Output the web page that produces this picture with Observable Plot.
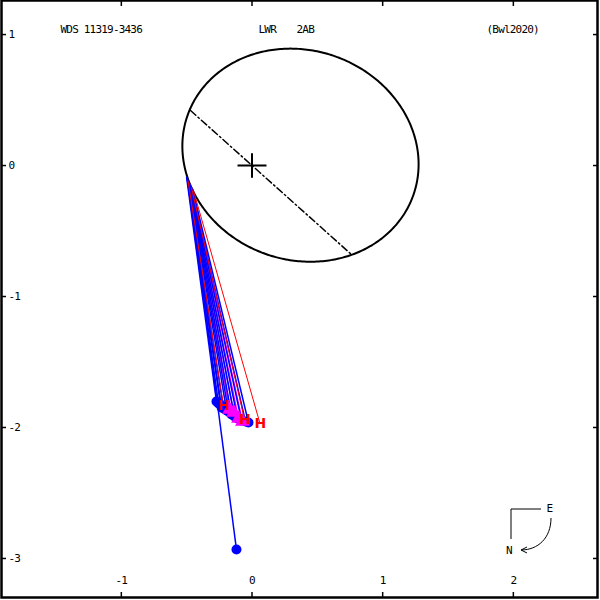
<!DOCTYPE html>
<html>
<head>
<meta charset="utf-8">
<script src="https://cdn.jsdelivr.net/npm/d3@7"></script>
<script src="https://cdn.jsdelivr.net/npm/@observablehq/plot@0.6"></script>
<style>
  html, body { margin: 0; padding: 0; background: white; }
  #chart svg { display: block; }
</style>
</head>
<body>
<div id="chart"></div>
<script>
// ---- Data (arcsec) ----
const titleLeft = "WDS 11319-3436";
const titleDisc = ["LWR", "2AB"];
const titleRef = "(Bwl2020)";
const xTicks = [-1, 0, 1, 2];
const yTicks = [1, 0, -1, -2, -3];

// apparent orbit ellipse (center, semi-axes, tilt in degrees)
const orbitCenter = [0.371, 0.079];
const orbitAxes = [0.916, 0.800];
const orbitTilt = -19.4;

// line of nodes endpoints
const nodeX = [-0.470, 0.753];
const nodeY = [0.420, -0.672];

// blue filled circles: predicted x, predicted y, observed x, observed y
const bluePredX = [-0.501, -0.497, -0.494, -0.494, -0.490, -0.486, -0.482, -0.478, -0.474, -0.471, -0.467, -0.463, -0.455, -0.486];
const bluePredY = [-0.084, -0.092, -0.099, -0.107, -0.115, -0.122, -0.130, -0.137, -0.145, -0.153, -0.160, -0.168, -0.176, -0.122];
const blueObsX  = [-0.272, -0.256, -0.241, -0.233, -0.218, -0.195, -0.180, -0.157, -0.134, -0.111, -0.080, -0.050, -0.027, -0.119];
const blueObsY  = [-1.802, -1.817, -1.824, -1.847, -1.855, -1.870, -1.878, -1.901, -1.916, -1.931, -1.947, -1.954, -1.962, -2.931];

// magenta triangles
const magPredX = [-0.482, -0.478, -0.471, -0.463];
const magPredY = [-0.130, -0.137, -0.156, -0.168];
const magObsX  = [-0.172, -0.141, -0.103, -0.073];
const magObsY  = [-1.863, -1.885, -1.931, -1.954];

// red H (Hipparcos)
const redPredX = [-0.490, -0.463, -0.448];
const redPredY = [-0.115, -0.168, -0.191];
const redObsX  = [-0.218, -0.057, 0.061];
const redObsY  = [-1.832, -1.939, -1.969];

// ---- build tables ----
const pairs = (px, py, ox, oy) => px.map((_, i) => ({px: px[i], py: py[i], ox: ox[i], oy: oy[i]}));
const blue = pairs(bluePredX, bluePredY, blueObsX, blueObsY);
const mag = pairs(magPredX, magPredY, magObsX, magObsY);
const red = pairs(redPredX, redPredY, redObsX, redObsY);

const phi = orbitTilt * Math.PI / 180;
const ellipse = d3.range(0, 361).map(deg => {
  const t = deg * Math.PI / 180;
  const a = orbitAxes[0] * Math.cos(t), b = orbitAxes[1] * Math.sin(t);
  return {x: orbitCenter[0] + a * Math.cos(phi) - b * Math.sin(phi),
          y: orbitCenter[1] + a * Math.sin(phi) + b * Math.cos(phi)};
});
const nodes = nodeX.map((x, i) => ({x, y: nodeY[i]}));

const crossSymbol = {
  draw(context, size) {
    const r = Math.sqrt(size / Math.PI);
    context.moveTo(-r, 0); context.lineTo(r, 0);
    context.moveTo(0, -0.85 * r); context.lineTo(0, 0.85 * r);
  }
};

const monoFont = "'DejaVu Sans Mono', monospace";

function compass(index, scales, values, dim) {
  const R = dim.width - dim.marginRight;
  const B = dim.height - dim.marginBottom;
  const g = d3.create("svg:g").attr("fill", "none").attr("stroke", "black").attr("stroke-width", 1);
  g.append("path").attr("d", `M${R-86},${B-58}V${B-88}H${R-56}`);
  g.append("path").attr("d", `M${R-46},${B-79}C${R-46},${B-59} ${R-59},${B-47} ${R-76},${B-47}`);
  g.append("path").attr("d", `M${R-70},${B-50}L${R-76},${B-47}L${R-70},${B-44}`);
  const t = g.append("g").attr("stroke", "none").attr("fill", "black")
    .attr("font-family", monoFont).attr("font-size", 11).attr("text-anchor", "middle");
  t.append("text").attr("x", R-47.5).attr("y", B-89).attr("dy", "0.35em").text("E");
  t.append("text").attr("x", R-88).attr("y", B-47).attr("dy", "0.35em").text("N");
  return g.node();
}

const chart = Plot.plot({
  width: 600,
  height: 600,
  marginLeft: 1,
  marginRight: 3,
  marginTop: 0,
  marginBottom: 3,
  x: {domain: [-1.917, 2.644]},
  y: {domain: [-3.298, 1.26]},
  style: {fontFamily: monoFont, fontSize: "11px", background: "white", overflow: "visible", letterSpacing: "-0.8px"},
  marks: [
    Plot.frame({stroke: "black", strokeWidth: 2.5}),
    Plot.axisX({ticks: xTicks, anchor: "bottom", tickSize: -5, tickFormat: () => "", label: null, strokeWidth: 1.5}),
    Plot.axisX({ticks: xTicks, anchor: "top", tickSize: -5, tickFormat: () => "", label: null, strokeWidth: 1.5}),
    Plot.axisY({ticks: yTicks, anchor: "left", tickSize: -5, tickFormat: () => "", label: null, strokeWidth: 1.5}),
    Plot.axisY({ticks: yTicks, anchor: "right", tickSize: -5, tickFormat: () => "", label: null, strokeWidth: 1.5}),
    Plot.text(xTicks, {x: d => d, text: d => String(d), frameAnchor: "bottom", dy: -13.5, fill: "black"}),
    Plot.text(yTicks, {y: d => d, text: d => String(d), frameAnchor: "left", dx: 7, textAnchor: "start", fill: "black"}),
    Plot.text([titleLeft], {text: d => d, frameAnchor: "top-left", dx: 59, dy: 25, textAnchor: "start", fill: "black"}),
    Plot.text([titleDisc[0]], {text: d => d, frameAnchor: "top-left", dx: 257, dy: 25, textAnchor: "start", fill: "black"}),
    Plot.text([titleDisc[1]], {text: d => d, frameAnchor: "top-left", dx: 295, dy: 25, textAnchor: "start", fill: "black"}),
    Plot.text([titleRef], {text: d => d, frameAnchor: "top-left", dx: 485, dy: 25, textAnchor: "start", fill: "black"}),
    Plot.line(ellipse, {x: "x", y: "y", stroke: "black", strokeWidth: 2}),
    Plot.line(nodes, {x: "x", y: "y", stroke: "black", strokeWidth: 1.5, strokeDasharray: "7,3,1.5,3"}),
    Plot.dot([{x: 0, y: 0}], {x: "x", y: "y", symbol: crossSymbol, r: 14.5, stroke: "black", strokeWidth: 2, fill: "none"}),
    Plot.link(mag, {x1: "px", y1: "py", x2: "ox", y2: "oy", stroke: "#ff00ff", strokeWidth: 1.3}),
    Plot.link(blue, {x1: "px", y1: "py", x2: "ox", y2: "oy", stroke: "#0000ff", strokeWidth: 1.5}),
    Plot.link(red, {x1: "px", y1: "py", x2: "ox", y2: "oy", stroke: "#ff0000", strokeWidth: 1}),
    Plot.dot(blue, {x: "ox", y: "oy", r: 5, fill: "#0000ff"}),
    Plot.dot(mag, {x: "ox", y: "oy", r: 5.5, symbol: "triangle", fill: "#ff00ff"}),
    Plot.text(red, {x: "ox", y: "oy", text: () => "H", fill: "#ff0000", fontSize: 14, fontWeight: "bold", fontFamily: "'DejaVu Sans', sans-serif"}),
    compass
  ]
});
document.getElementById("chart").appendChild(chart);
</script>
</body>
</html>
